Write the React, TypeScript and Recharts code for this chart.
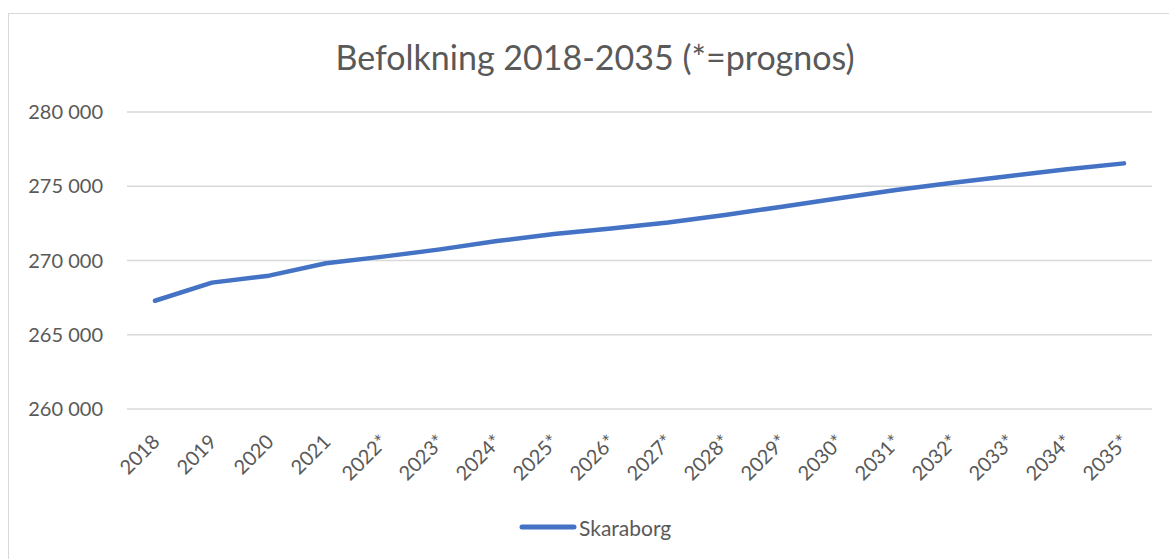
import React from "react";
import { LineChart, Line, XAxis, YAxis, CartesianGrid, Legend } from "recharts";

const years = [
  "2018", "2019", "2020", "2021", "2022*", "2023*", "2024*", "2025*", "2026*",
  "2027*", "2028*", "2029*", "2030*", "2031*", "2032*", "2033*", "2034*", "2035*",
];

const skaraborg = [
  267290, 268510, 268980, 269810, 270260, 270750, 271310, 271780, 272150,
  272560, 273070, 273620, 274190, 274750, 275240, 275690, 276140, 276540,
];

const yTicks = [260000, 265000, 270000, 275000, 280000];

const data = years.map((year, i) => ({ year, Skaraborg: skaraborg[i] }));

const FONT = "Lato, 'Open Sans', sans-serif";
const TEXT = "#595959";
const BLUE = "#4472C4";

const formatTick = (v: number) =>
  v.toLocaleString("sv-SE").replace(/\u00a0/g, " ");

const XTick = (props: any) => {
  const { x, y, payload } = props;
  const ax = x + 6;
  const ay = y + 26;
  return (
    <text
      x={ax}
      y={ay}
      transform={`rotate(-45, ${ax}, ${ay})`}
      textAnchor="end"
      fill={TEXT}
      fontSize={20}
      fontFamily={FONT}
    >
      {payload.value}
    </text>
  );
};

const LegendContent = () => (
  <div
    style={{
      height: 34,
      display: "flex",
      alignItems: "center",
      paddingLeft: 519,
      fontFamily: FONT,
      fontSize: 21,
      color: TEXT,
    }}
  >
    <svg width={58} height={10} style={{ marginRight: 2 }}>
      <line x1={3} y1={5} x2={55} y2={5} stroke={BLUE} strokeWidth={5} strokeLinecap="round" />
    </svg>
    <span>Skaraborg</span>
  </div>
);

export default function App() {
  return (
    <div
      style={{
        position: "absolute",
        left: 0,
        top: 0,
        width: 1169,
        height: 559,
        overflow: "hidden",
        background: "#fff",
      }}
    >
      <div
        style={{
          position: "absolute",
          left: 8,
          top: 13,
          width: 1200,
          height: 600,
          border: "1px solid #d9d9d9",
        }}
      />
      <div
        style={{
          position: "absolute",
          left: 0,
          top: 36,
          width: 1190,
          textAlign: "center",
          fontFamily: FONT,
          fontSize: 34,
          color: TEXT,
        }}
      >
        Befolkning 2018-2035 (*=prognos)
      </div>
      <div style={{ position: "absolute", left: 0, top: 0 }}>
        <LineChart
          width={1169}
          height={559}
          data={data}
          margin={{ top: 112, right: 17, bottom: 0, left: 0 }}
        >
          <CartesianGrid vertical={false} stroke="#d9d9d9" strokeWidth={1.3} />
          <XAxis
            dataKey="year"
            axisLine={false}
            tickLine={false}
            height={116}
            interval={0}
            padding={{ left: 28, right: 28 }}
            tick={<XTick />}
          />
          <YAxis
            domain={[260000, 280000]}
            ticks={yTicks}
            axisLine={false}
            tickLine={false}
            tickSize={0}
            tickMargin={24}
            width={127}
            tickFormatter={formatTick}
            tick={{ fill: TEXT, fontSize: 20, fontFamily: FONT }}
          />
          <Legend
            verticalAlign="bottom"
            wrapperStyle={{ top: 510, left: 0 }}
            content={<LegendContent />}
          />
          <Line
            type="linear"
            dataKey="Skaraborg"
            stroke={BLUE}
            strokeWidth={4.5}
            strokeLinecap="round"
            strokeLinejoin="round"
            dot={false}
            activeDot={false}
            isAnimationActive={false}
          />
        </LineChart>
      </div>
    </div>
  );
}
